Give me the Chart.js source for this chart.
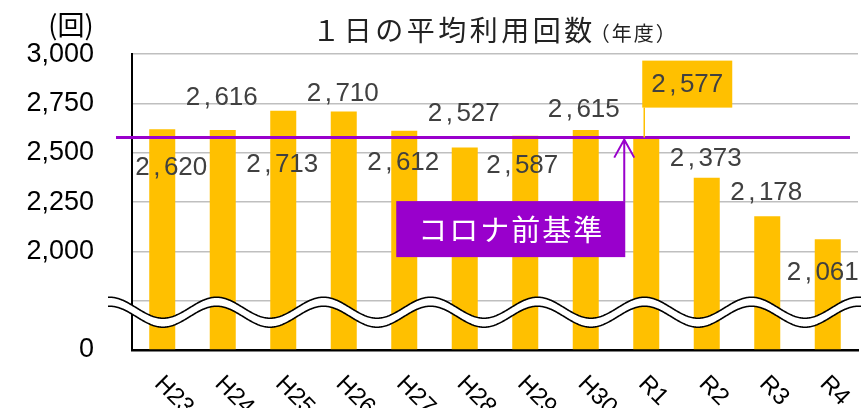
<!DOCTYPE html>
<html lang="ja">
<head>
<meta charset="utf-8">
<title>1日の平均利用回数</title>
<script src="https://cdn.jsdelivr.net/npm/chart.js@4.4.1/dist/chart.umd.min.js"></script>
<style>
  html, body { margin: 0; padding: 0; background: #fff; }
  #wrap { width: 861px; height: 408px; }
</style>
</head>
<body>
<div id="wrap"><canvas id="usageChart" width="861" height="408"></canvas></div>
<script>
const categories = ['H23', 'H24', 'H25', 'H26', 'H27', 'H28', 'H29', 'H30', 'R1', 'R2', 'R3', 'R4'];
const dailyUse = [2620, 2616, 2713, 2710, 2612, 2527, 2587, 2615, 2577, 2373, 2178, 2061];
const yTicks = [0, 2000, 2250, 2500, 2750, 3000];
const preCovidLevel = 2577;
const preCovidLabel = 'コロナ前基準';
const titleMain = '１日の平均利用回数';
const titleSub = '（年度）';
const unitLabel = '(回)';

// label nudges (px from bar top), the original labels were dragged by hand
const labelOffsets = [[9, 39], [-1, -32], [-1, 54], [-1, -18], [-1, 32], [-1, -34],
  [-3, 30], [-2, -20], [41, -53], [-1, -19], [-1, -23], [-5, 33]];
const HIGHLIGHT = 8; // R1 gets the boxed label

// axis is broken between 0 and 2000: values above the break are shifted down
const BREAK_SHIFT = 1500;
function toAxis(v) { return v >= 2000 ? v - BREAK_SHIFT : v; }

const NUM_FONT = '26px "Liberation Sans", Arial, sans-serif';
const JP_FONT = '"Noto Sans CJK JP", "Noto Sans", sans-serif';
const PURPLE = '#9900CC';
const GOLD = '#FFC000';

function drawNum(ctx, text, cx, cy) {
  const parts = text.split(',');
  const gap = 3.5;
  const wA = ctx.measureText(parts[0]).width;
  const wC = ctx.measureText(',').width;
  const wB = ctx.measureText(parts[1]).width;
  let x = cx - (wA + wC + wB + gap * 2) / 2;
  ctx.textAlign = 'left';
  ctx.fillText(parts[0], x, cy);
  x += wA + gap;
  ctx.fillText(',', x, cy);
  x += wC + gap;
  ctx.fillText(parts[1], x, cy);
}

const decor = {
  id: 'decor',
  afterDatasetsDraw(chart) {
    const ctx = chart.ctx;
    const area = chart.chartArea;
    const y = chart.scales.y;
    const bars = chart.getDatasetMeta(0).data;

    // wavy break across the axis
    const g = y.getPixelForValue(250);
    const P = 107, A = 10.5;
    const x0 = area.left - 24, x1 = chart.width;
    const wave = function (x, c) { return c + A * Math.cos(2 * Math.PI * (x - area.left - 31) / P); };
    ctx.save();
    ctx.beginPath();
    for (let x = x0; x <= x1; x++) {
      if (x === x0) ctx.moveTo(x, wave(x, g + 7)); else ctx.lineTo(x, wave(x, g + 7));
    }
    for (let x = x1; x >= x0; x--) ctx.lineTo(x, wave(x, g + 16));
    ctx.closePath();
    ctx.fillStyle = '#fff';
    ctx.fill();
    ctx.strokeStyle = '#000';
    ctx.lineWidth = 1.6;
    [g + 7, g + 16].forEach(function (c) {
      ctx.beginPath();
      for (let x = x0; x <= x1; x++) {
        if (x === x0) ctx.moveTo(x, wave(x, c)); else ctx.lineTo(x, wave(x, c));
      }
      ctx.stroke();
    });

    // pre-covid reference line + arrow + label
    const ly = y.getPixelForValue(toAxis(preCovidLevel));
    ctx.strokeStyle = PURPLE;
    ctx.lineWidth = 3;
    ctx.beginPath();
    ctx.moveTo(area.left - 16, ly);
    ctx.lineTo(area.right - 8, ly);
    ctx.stroke();

    const ax = bars[HIGHLIGHT].x - 22;
    const boxTop = ly + 63.5;
    ctx.lineWidth = 2;
    ctx.beginPath();
    ctx.moveTo(ax, boxTop);
    ctx.lineTo(ax, ly + 2);
    ctx.moveTo(ax - 10, ly + 20);
    ctx.lineTo(ax, ly + 2);
    ctx.lineTo(ax + 10, ly + 20);
    ctx.stroke();

    ctx.fillStyle = PURPLE;
    ctx.fillRect(ax - 228, boxTop, 229, 56);
    ctx.fillStyle = '#fff';
    ctx.font = '29px ' + JP_FONT;
    ctx.textAlign = 'center';
    ctx.textBaseline = 'middle';
    ctx.letterSpacing = '2px';
    ctx.fillText(preCovidLabel, ax - 113, boxTop + 29);
    ctx.letterSpacing = '0px';

    // value labels
    ctx.font = NUM_FONT;
    ctx.textBaseline = 'middle';
    bars.forEach(function (bar, i) {
      const txt = dailyUse[i].toLocaleString('en-US');
      const cx = bar.x + labelOffsets[i][0];
      const cy = bar.y + labelOffsets[i][1];
      if (i === HIGHLIGHT) {
        ctx.strokeStyle = GOLD;
        ctx.lineWidth = 1.5;
        ctx.beginPath();
        ctx.moveTo(bar.x - 2, cy + 23);
        ctx.lineTo(bar.x - 2, bar.y);
        ctx.stroke();
        ctx.fillStyle = GOLD;
        ctx.fillRect(cx - 45, cy - 24, 90, 47);
      }
      ctx.fillStyle = '#404040';
      drawNum(ctx, txt, cx, cy);
    });

    // slanted category labels
    ctx.fillStyle = '#000';
    ctx.font = '24px "Liberation Sans", Arial, sans-serif';
    ctx.textAlign = 'left';
    ctx.textBaseline = 'middle';
    bars.forEach(function (bar, i) {
      ctx.save();
      ctx.translate(bar.x - 4, area.bottom + 30);
      ctx.rotate(Math.PI / 4);
      ctx.fillText(categories[i], 0, 0);
      ctx.restore();
    });

    // titles
    ctx.fillStyle = '#222';
    ctx.textBaseline = 'middle';
    ctx.font = '28px ' + JP_FONT;
    ctx.letterSpacing = '3.5px';
    const wMain = ctx.measureText(titleMain).width;
    ctx.font = '20px ' + JP_FONT;
    ctx.letterSpacing = '2px';
    const wSub = ctx.measureText(titleSub).width;
    const tx = (area.left + area.right) / 2 + 3 - (wMain + wSub) / 2;
    ctx.font = '28px ' + JP_FONT;
    ctx.letterSpacing = '3.5px';
    ctx.fillText(titleMain, tx, 30);
    ctx.font = '20px ' + JP_FONT;
    ctx.letterSpacing = '2px';
    ctx.fillText(titleSub, tx + wMain - 6, 33);
    ctx.letterSpacing = '0px';

    ctx.fillStyle = '#000';
    ctx.font = '27px ' + JP_FONT;
    ctx.textAlign = 'center';
    ctx.fillText(unitLabel, 71, 25);
    ctx.restore();
  }
};

new Chart(document.getElementById('usageChart'), {
  type: 'bar',
  data: {
    labels: categories,
    datasets: [
      {
        data: dailyUse.map(toAxis),
        backgroundColor: GOLD,
        borderWidth: 0,
        barPercentage: 0.43,
        categoryPercentage: 1,
      },
    ],
  },
  options: {
    responsive: false,
    animation: false,
    layout: { padding: { top: 54, right: 3, bottom: 0, left: 0 } },
    plugins: {
      legend: { display: false },
      tooltip: { enabled: false },
    },
    scales: {
      x: {
        grid: { display: false },
        border: { display: true, color: '#000', width: 2.5 },
        ticks: { display: false },
        afterFit: function (scale) { scale.height = 58; },
      },
      y: {
        min: 0,
        max: 1500,
        ticks: {
          stepSize: 250,
          padding: 38,
          color: '#000',
          font: { family: '"Liberation Sans", Arial, sans-serif', size: 27 },
          callback: function (value) {
            const real = value === 0 ? 0 : value + BREAK_SHIFT;
            return yTicks.includes(real) ? real.toLocaleString('en-US') : '';
          },
        },
        grid: {
          drawTicks: false,
          lineWidth: 1.5,
          color: function (c) { return c.tick && c.tick.value === 0 ? 'rgba(0,0,0,0)' : '#BFBFBF'; },
        },
        border: { display: true, color: '#000', width: 2 },
        afterFit: function (scale) { scale.width = 132; },
      },
    },
  },
  plugins: [decor],
});
</script>
</body>
</html>
